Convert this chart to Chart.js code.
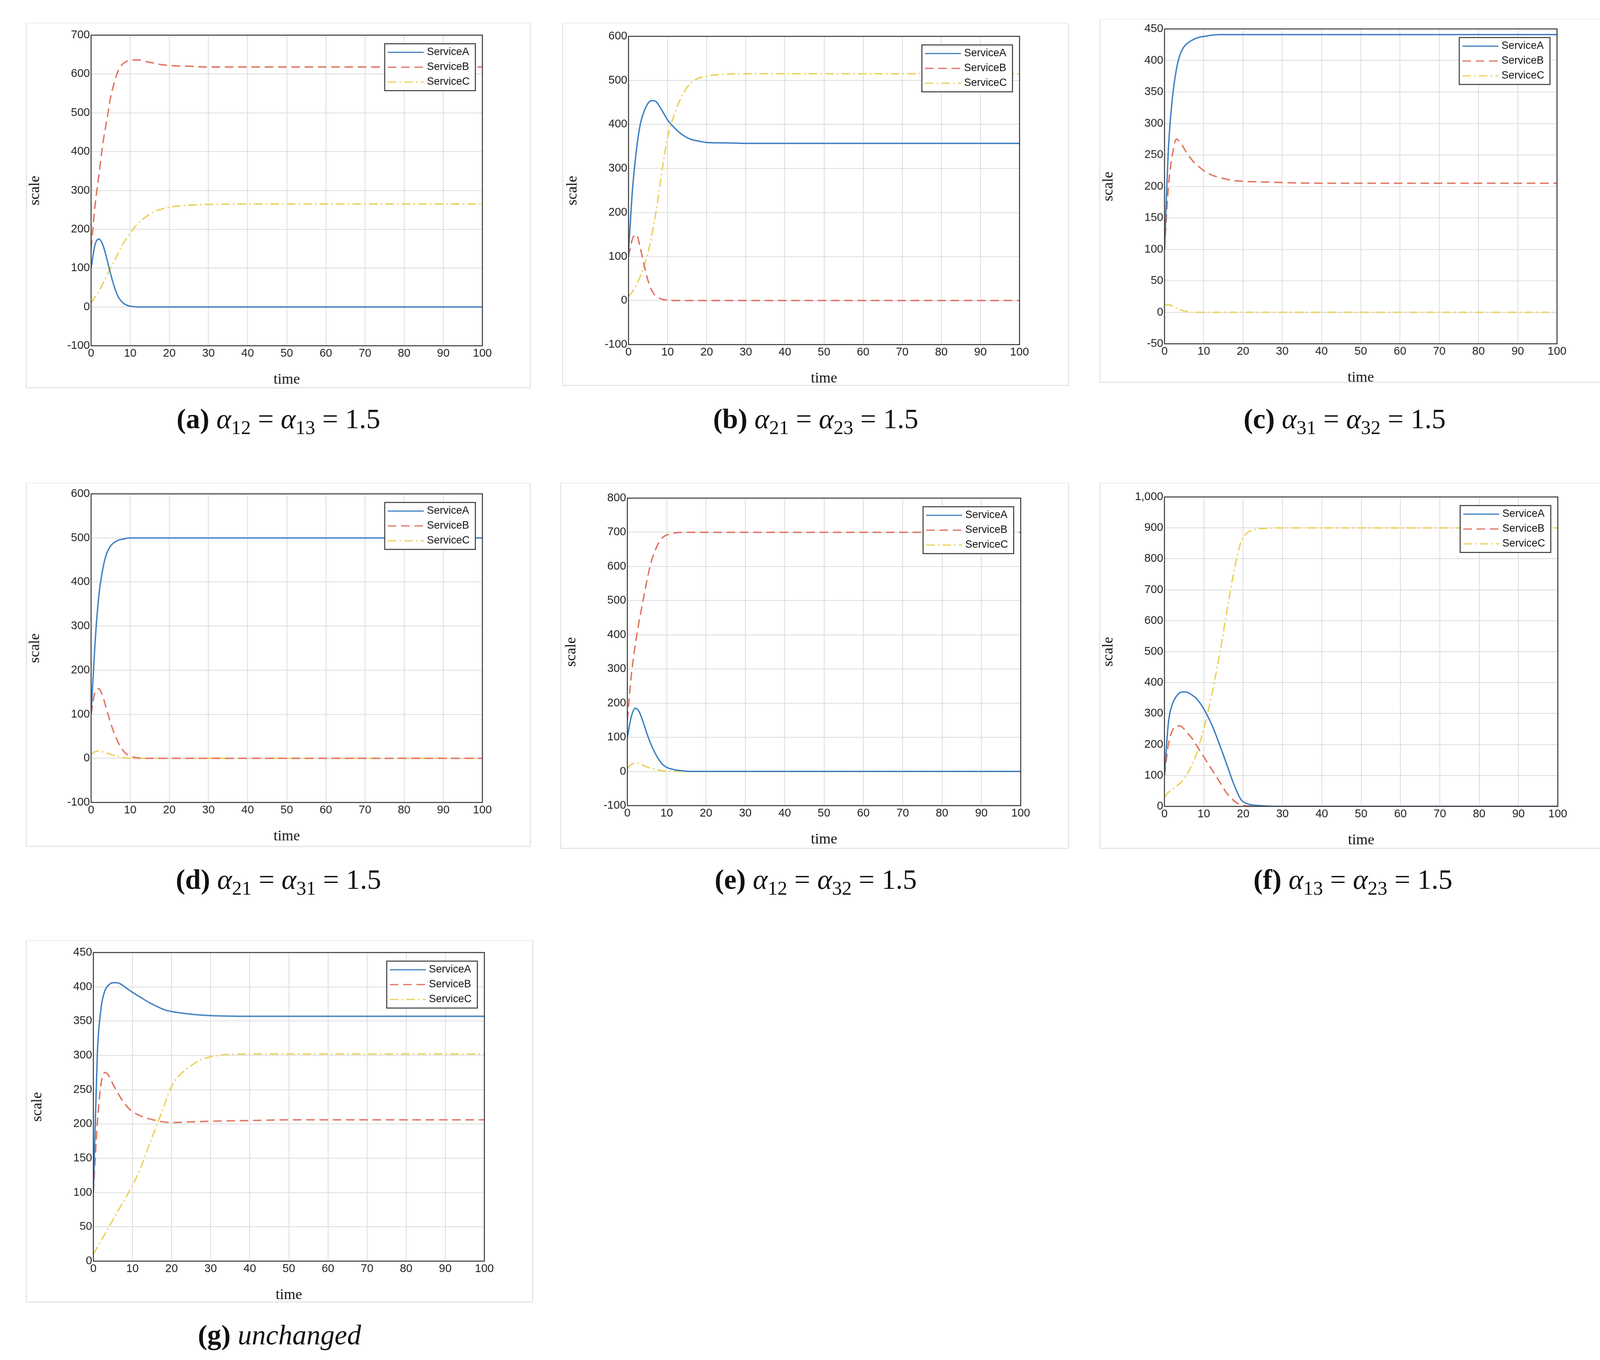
<!DOCTYPE html>
<html><head><meta charset="utf-8">
<script src="https://cdn.jsdelivr.net/npm/chart.js@4"></script>
<style>
body{margin:0;width:4135px;height:3481px;background:#fff;position:relative;overflow:hidden}
.frame{position:absolute;border:3px solid #e6e6e6;border-top-color:#f2f2f2;box-sizing:border-box}
canvas{position:absolute}
.cap{position:absolute;font-family:"Liberation Serif","DejaVu Serif",serif;font-size:72px;text-align:center;width:1300px;color:#111}
.cap b{font-weight:bold}
.cap i sub{font-style:normal;font-size:0.7em}
</style></head><body>
<script>
const t=[0,1,2,3,4,5,6,7,8,9,10,12,14,16,18,20,25,30,40,50,60,70,80,90,100];
const aA=[100,160,175,160,125,85,50,25,12,5,2,0,0,0,0,0,0,0,0,0,0,0,0,0,0];
const aB=[150,260,340,420,480,540,580,610,625,632,636,636,632,628,624,622,620,618,618,618,618,618,618,618,618];
const aC=[10,25,40,60,80,100,120,140,160,175,190,215,232,245,252,257,262,264,265,265,265,265,265,265,265];
const bA=[110,250,340,400,430,448,454,452,440,425,410,390,375,366,362,359,358,357,357,357,357,357,357,357,357];
const bB=[100,140,150,120,80,45,22,10,5,2,1,0,0,0,0,0,0,0,0,0,0,0,0,0,0];
const bC=[10,20,35,55,80,110,150,200,260,320,370,430,470,495,505,510,514,515,515,515,515,515,515,515,515];
const cA=[100,260,340,385,410,422,428,432,435,437,438,440,441,441,441,441,441,441,441,441,441,441,441,441,441];
const cB=[100,200,250,275,270,260,250,242,235,230,225,218,214,211,209,208,207,206,205,205,205,205,205,205,205];
const cC=[12,12,10,7,4,2,1,0,0,0,0,0,0,0,0,0,0,0,0,0,0,0,0,0,0];
const dA=[100,260,370,430,465,482,490,495,497,499,500,500,500,500,500,500,500,500,500,500,500,500,500,500,500];
const dB=[100,150,158,140,110,80,55,35,20,10,5,1,0,0,0,0,0,0,0,0,0,0,0,0,0];
const dC=[10,15,17,15,12,9,6,4,2,1,0,0,0,0,0,0,0,0,0,0,0,0,0,0,0];
const eA=[100,160,185,175,145,110,80,55,35,20,12,5,2,0,0,0,0,0,0,0,0,0,0,0,0];
const eB=[150,280,370,440,500,560,610,645,670,685,692,698,700,700,700,700,700,700,700,700,700,700,700,700,700];
const eC=[10,20,25,23,18,13,9,6,4,2,1,0,0,0,0,0,0,0,0,0,0,0,0,0,0];
const fA=[100,270,330,355,368,370,368,360,350,335,315,265,200,130,60,15,2,0,0,0,0,0,0,0,0];
const fB=[100,200,245,260,260,250,235,220,200,180,160,120,80,40,15,3,0,0,0,0,0,0,0,0,0];
const fC=[30,45,55,65,75,90,110,135,165,205,250,360,490,640,780,870,898,900,900,900,900,900,900,900,900];
const gA=[100,300,370,395,403,406,406,404,400,396,392,385,378,372,367,364,360,358,357,357,357,357,357,357,357];
const gB=[100,200,260,275,270,258,248,238,230,223,218,212,208,205,203,202,203,204,205,206,206,206,206,206,206];
const gC=[10,20,30,40,50,60,70,80,90,100,110,135,165,195,225,255,285,298,302,302,302,302,302,302,302];
const names=["ServiceA","ServiceB","ServiceC"];
const S=2.65;
const panels=[
 {f:[25,22,513,375],p:[88,34,466,334],d:[aA,aB,aC],y:[-100,700,100],cap:["a","12","13"],cy:408,cx:269},
 {f:[543,22,1033,373],p:[607,35,985,333],d:[bA,bB,bC],y:[-100,600,100],cap:["b","21","23"],cy:408,cx:788},
 {f:[1062,18,1552,370],p:[1125,28,1504,332],d:[cA,cB,cC],y:[-50,450,50],cap:["c","31","32"],cy:408,cx:1299},
 {f:[25,466,513,818],p:[88,477,466,775],d:[dA,dB,dC],y:[-100,600,100],cap:["d","21","31"],cy:853,cx:269},
 {f:[541,466,1033,820],p:[606,481,986,778],d:[eA,eB,eC],y:[-100,800,100],cap:["e","12","32"],cy:853,cx:788},
 {f:[1062,466,1552,820],p:[1125,480,1505,779],d:[fA,fB,fC],y:[0,1000,100],cap:["f","13","23"],cy:853,cx:1307},
 {f:[25,908,515,1258],p:[90,920,468,1218],d:[gA,gB,gC],y:[0,450,50],cap:["g"],cy:1293,cx:270}
];
const cols=["#3d7fc2","#e0705e","#eccf58"];
const dashes=[[],[22,12],[22,8,4,8]];
const box={id:'box',afterDraw(c){const a=c.chartArea,x=c.ctx;x.save();x.strokeStyle='#333';x.lineWidth=2.5;x.strokeRect(a.left,a.top,a.right-a.left,a.bottom-a.top);
 const w=232,h=120,lx=a.right-w-18,ly=a.top+22;x.fillStyle='#fff';x.fillRect(lx,ly,w,h);x.strokeRect(lx,ly,w,h);
 x.font='27px "Liberation Sans",Arial';x.textBaseline='middle';
 for(let i=0;i<3;i++){const yy=ly+22+i*38;x.strokeStyle=cols[i];x.lineWidth=3;x.setLineDash(dashes[i]);x.beginPath();x.moveTo(lx+8,yy);x.lineTo(lx+100,yy);x.stroke();x.setLineDash([]);x.fillStyle='#111';x.fillText(names[i],lx+108,yy);}
 x.restore();}};
panels.forEach(P=>{
 const fr=document.createElement('div');fr.className='frame';
 fr.style.cssText=`left:${P.f[0]*S}px;top:${P.f[1]*S}px;width:${(P.f[2]-P.f[0])*S}px;height:${(P.f[3]-P.f[1])*S}px`;
 document.body.appendChild(fr);
 const L=170,T=32,R=110,B=110;
 const pw=(P.p[2]-P.p[0])*S,ph=(P.p[3]-P.p[1])*S;
 const cv=document.createElement('canvas');
 cv.style.cssText=`left:${P.p[0]*S-L}px;top:${P.p[1]*S-T}px;width:${pw+L+R}px;height:${ph+T+B}px`;
 cv.width=pw+L+R;cv.height=ph+T+B;document.body.appendChild(cv);
 new Chart(cv,{type:'line',plugins:[box],data:{datasets:P.d.map((arr,i)=>({label:names[i],data:t.map((tt,k)=>({x:tt,y:arr[k]})),borderColor:cols[i],borderWidth:3.5,borderDash:dashes[i],pointRadius:0,cubicInterpolationMode:'monotone',fill:false}))},
 options:{responsive:false,animation:false,layout:{padding:{top:T,right:R,left:0,bottom:0}},plugins:{legend:{display:false},tooltip:{enabled:false}},
 scales:{x:{type:'linear',min:0,max:100,ticks:{stepSize:10,color:'#222',font:{size:29,family:'"Liberation Sans",Arial'}},grid:{color:'#dcdcdc',lineWidth:2,tickLength:0},border:{display:false},
  title:{display:true,text:'time',font:{size:38,family:'"Liberation Serif",serif'},color:'#111',padding:0},afterFit:s=>{s.height=B}},
 y:{min:P.y[0],max:P.y[1],ticks:{stepSize:P.y[2],color:'#222',font:{size:29,family:'"Liberation Sans",Arial'}},grid:{color:'#dcdcdc',lineWidth:2,tickLength:0},border:{display:false},
  title:{display:true,text:'scale',font:{size:38,family:'"Liberation Serif",serif'},color:'#111',padding:4},afterFit:s=>{s.width=L}}}}});
 const cp=document.createElement('div');cp.className='cap';
 cp.style.left=(P.cx*S-650)+'px';cp.style.top=(P.cy*S-50)+'px';
 cp.innerHTML=P.cap.length>1?`<b>(${P.cap[0]})</b> <i>α<sub>${P.cap[1]}</sub></i> = <i>α<sub>${P.cap[2]}</sub></i> = 1.5`:`<b>(${P.cap[0]})</b> <i>unchanged</i>`;
 document.body.appendChild(cp);
});
</script></body></html>
